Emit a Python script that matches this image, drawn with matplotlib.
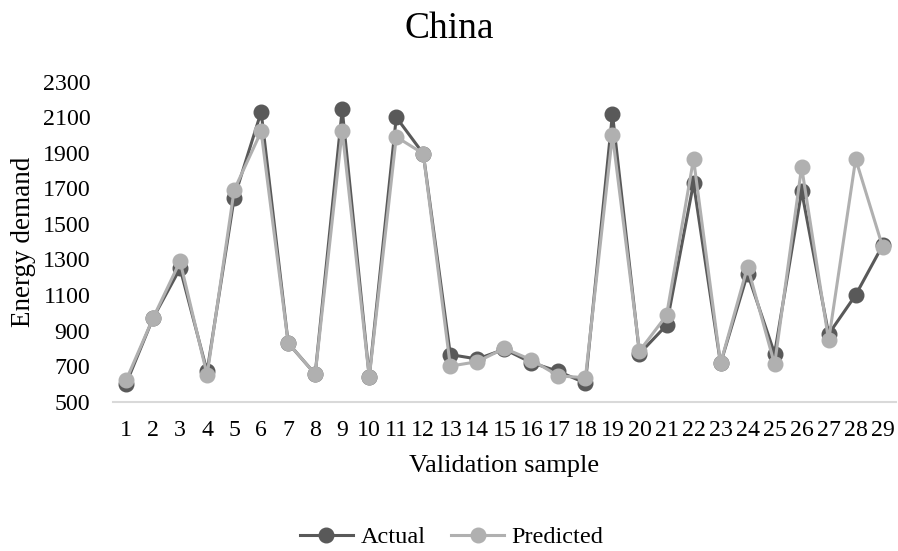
import matplotlib
matplotlib.use("Agg")
import matplotlib.pyplot as plt

plt.rcParams["font.family"] = ["Liberation Serif", "DejaVu Serif"]

samples = list(range(1, 30))
actual = [600, 970, 1250, 670, 1645, 2130, 830, 655, 2145, 640,
          2100, 1895, 765, 740, 795, 720, 670, 605, 2120, 770,
          930, 1730, 715, 1220, 770, 1685, 880, 1100, 1380]
predicted = [620, 970, 1290, 650, 1690, 2020, 830, 655, 2025, 638,
             1990, 1895, 700, 725, 800, 735, 645, 635, 2000, 785,
             985, 1865, 715, 1260, 710, 1820, 845, 1865, 1370]
y_ticks = list(range(500, 2301, 200))

ACTUAL_COLOR = "#595959"
PRED_COLOR = "#b0b0b0"

fig = plt.figure(figsize=(8.98, 5.51), dpi=100)
ax = fig.add_axes([0.1253, 0.271, 0.8727, 0.5807])

ax.plot(samples, actual, "-o", color=ACTUAL_COLOR, linewidth=2.2,
        markersize=10.5, label="Actual", zorder=2)
ax.plot(samples, predicted, "-o", color=PRED_COLOR, linewidth=2.2,
        markersize=10.5, label="Predicted", zorder=3)

ax.set_xlim(0.5, 29.5)
ax.set_ylim(500, 2300)
ax.set_xticks(samples)
ax.set_xticklabels([str(s) for s in samples])
ax.set_yticks(y_ticks)
ax.tick_params(axis="both", length=0, labelsize=17.2)
ax.tick_params(axis="y", pad=16)
ax.tick_params(axis="x", pad=13)

for side in ("top", "right", "left"):
    ax.spines[side].set_visible(False)
ax.spines["bottom"].set_color("#d9d9d9")
ax.spines["bottom"].set_linewidth(1.5)

ax.set_xlabel("Validation sample", fontsize=19, labelpad=10)
ax.set_ylabel("Energy demand", fontsize=19.5, labelpad=5)

fig.text(0.5, 0.947, "China", ha="center", va="center", fontsize=27)

fig.legend(loc="center", bbox_to_anchor=(0.503, 0.025), ncol=2, frameon=False,
           fontsize=17.5, handlelength=2.2, columnspacing=1.05, handletextpad=0.3)

fig.savefig("out.png", dpi=100)
